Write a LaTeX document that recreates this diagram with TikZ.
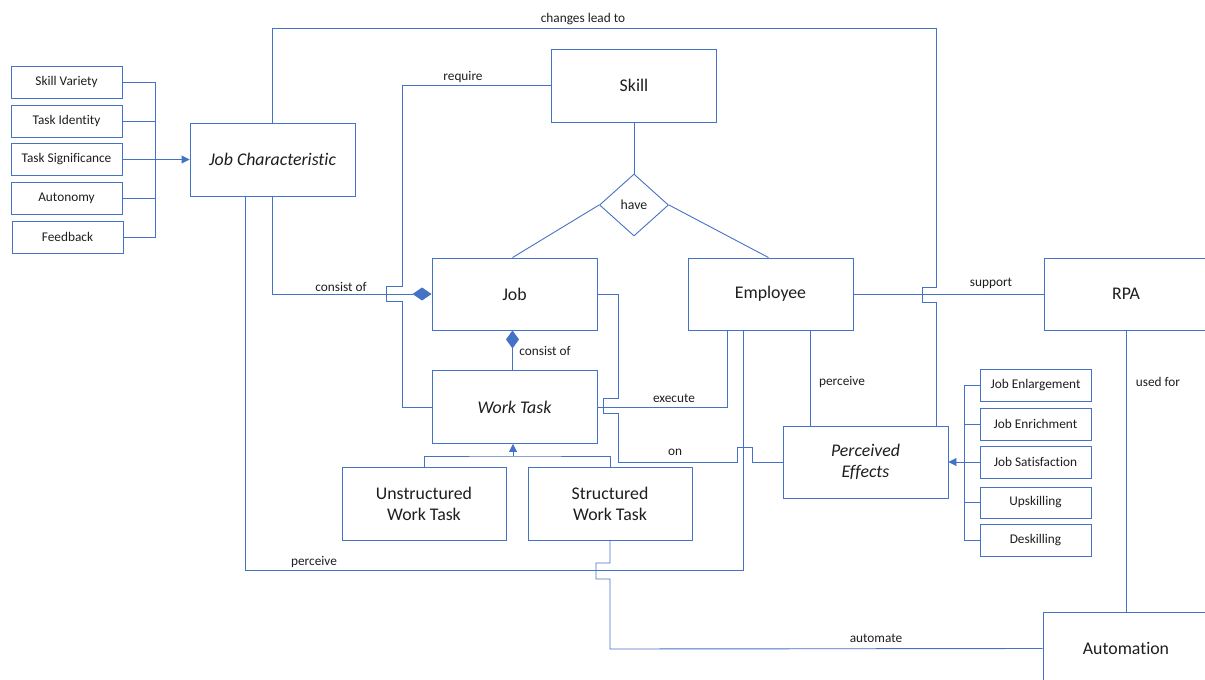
\documentclass[tikz,border=0pt]{standalone}
\usepackage{fontspec}
\setmainfont{Carlito}[Ligatures=NoCommon]
\usetikzlibrary{arrows.meta,shapes.geometric}
\definecolor{lblue}{HTML}{4472C4}
\definecolor{txt}{HTML}{1E1E1E}
\tikzset{
  conn/.style={draw=lblue, line width=0.9pt},
  bigbox/.style={draw=lblue, line width=0.9pt, fill=white, minimum width=165pt, minimum height=73pt, inner sep=0pt, text=txt, font=\fontsize{17.8}{21}\selectfont, align=center},
  smallbox/.style={draw=lblue, line width=0.9pt, fill=white, minimum width=111pt, minimum height=32pt, inner sep=0pt, text=txt, font=\fontsize{13.3}{15}\selectfont},
  lbl/.style={text=txt, font=\fontsize{13.3}{15}\selectfont, inner sep=0pt},
  tri/.style={-{Triangle[length=8pt,width=8pt]}},
  dia/.style={-{Diamond[length=19pt,width=13pt]}},
}
\begin{document}
\begin{tikzpicture}[x=1pt,y=-1pt]
\useasboundingbox (0,0) rectangle (1205,680);
\clip (0,0) rectangle (1205,680);
% left attribute boxes
\node[smallbox] (sv) at (66.5,82) {Skill Variety};
\node[smallbox] (ti) at (66.5,121) {Task Identity};
\node[smallbox] (ts) at (66.5,159.5) {Task Significance};
\node[smallbox] (au) at (66.5,198.5) {Autonomy};
\node[smallbox] (fb) at (67.5,237) {Feedback};
% main boxes
\node[bigbox] (jc) at (272.5,159.5) {\itshape Job Characteristic};
\node[bigbox] (skill) at (634,85.5) {Skill};
\node[draw=lblue, line width=0.9pt, fill=white, diamond, minimum width=69pt, minimum height=62pt, inner sep=0pt, text=txt, font=\fontsize{13.8}{15}\selectfont] (have) at (634,205) {have};
\node[bigbox, minimum height=72pt] (job) at (514.5,294) {Job};
\node[bigbox] (wt) at (514.5,407) {\itshape Work Task};
\node[bigbox, minimum height=72pt] (emp) at (770.5,294) {Employee};
\node[bigbox, minimum height=72pt, minimum width=164pt] (rpa) at (1126,294) {RPA};
\node[bigbox, minimum width=164pt] (uwt) at (424,503.5) {Unstructured\\Work Task};
\node[bigbox, minimum width=164pt] (swt) at (610,503.5) {Structured\\Work Task};
\node[bigbox, minimum height=72pt] (pe) at (865.5,462) {\itshape Perceived\\\itshape Effects};
\node[bigbox, minimum width=166pt] (auto) at (1126,648.5) {Automation};
% right attribute boxes
\node[smallbox] (je) at (1035.5,385) {Job Enlargement};
\node[smallbox] (jen) at (1035.5,424) {Job Enrichment};
\node[smallbox] (js) at (1035.5,462) {Job Satisfaction};
\node[smallbox, minimum height=31pt] (up) at (1035.5,502.5) {Upskilling};
\node[smallbox] (ds) at (1035.5,540) {Deskilling};

% bus coordinates
\coordinate (lbus) at (155,0);
\coordinate (rbus) at (964,0);
% left bus
\draw[conn] (sv.east) -- (sv.east -| lbus) -- (fb.east -| lbus) -- (fb.east);
\draw[conn] (ti.east) -- (ti.east -| lbus);
\draw[conn] (au.east) -- (au.east -| lbus);
\draw[conn,tri] (ts.east) -- (jc.west);
% right bus
\draw[conn] (je.west) -- (je.west -| rbus) -- (ds.west -| rbus) -- (ds.west);
\draw[conn] (jen.west) -- (jen.west -| rbus);
\draw[conn] (up.west) -- (up.west -| rbus);
\draw[conn,tri] (js.west) -- (pe.east);

% changes lead to
\coordinate (clt) at (936,28);
\draw[conn] (jc.north) |- (clt) -- (936,287) -- (922,287) -- (922,302) -- (936,302) -- (pe.north -| clt);
\node[lbl] (lclt) at (583,19) {changes lead to};

% require
\draw[conn] (skill.west) -- (402,85.5) -- (402,286) -- (386,286) -- (386,301) -- (402,301) |- (wt.west);
\node[lbl] (lreq) at (463,77) {require};

% have
\draw[conn] (skill.south) -- (have.north);
\draw[conn] (have.west) -- ([xshift=-2pt]job.north);
\draw[conn] (have.east) -- ([xshift=-2pt]emp.north);

% consist of (JC - Job)
\draw[conn,dia] ([xshift=-0.5pt]jc.south) |- (job.west);
\node[lbl] (lco1) at (341,287) {consist of};

% consist of (Job - Work Task)
\draw[conn,{Diamond[length=18pt,width=13pt]}-] ([xshift=-2pt]job.south) -- ([xshift=-2pt]wt.north);
\node[lbl] (lco2) at (545,351) {consist of};

% execute
\draw[conn] (wt.east) -| ([xshift=-43.5pt]emp.south);
\node[lbl] (lexe) at (674,398) {execute};

% on
\draw[conn] (job.east) -- (618,294) -- (618,398) -- (603,398) -- (603,413) -- (618,413) -- (618,462) -- (737,462) -- (737,447) -- (752,447) -- (752,462) -- (pe.west);
\node[lbl] (lon) at (675,452) {on};

% perceive (JC - Employee)
\draw[conn] ([xshift=-27.5pt]jc.south) -- (245,570) -| ([xshift=-27.5pt]emp.south);
\node[lbl] (lper1) at (314,562) {perceive};

% perceive (Employee - Perceived Effects)
\draw[conn] ([xshift=40pt]emp.south) -- ([xshift=40pt]emp.south |- pe.north);
\node[lbl] (lper2) at (842,382) {perceive};

% support
\draw[conn] (emp.east) -- (rpa.west);
\node[lbl] (lsup) at (991,283) {support};

% used for
\draw[conn] (rpa.south) -- (auto.north);
\node[lbl] (luse) at (1158,382) {used for};

% automate
\draw[conn] (auto.west) -- (610,649) -- (610,579) -- (596,579) -- (596,563) -- (610,563) -- (swt.south);
\node[lbl] (laut) at (876,638) {automate};

% inheritance
\coordinate (inh) at (513,456);
\draw[conn] (uwt.north) |- (inh) -| (swt.north);
\draw[conn,tri] (inh) -- (inh |- wt.south);
\end{tikzpicture}
\end{document}
